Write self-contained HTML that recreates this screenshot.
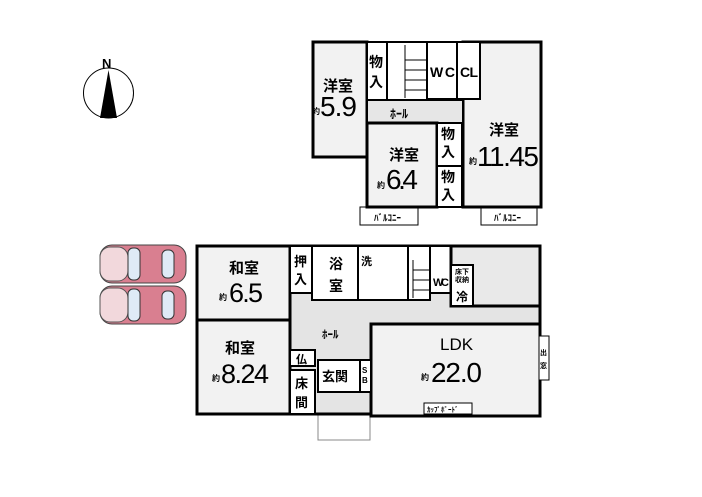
<!DOCTYPE html>
<html><head><meta charset="utf-8"><style>
body{margin:0;background:#fff}
svg{display:block}
text{font-family:"Liberation Sans","Noto Sans CJK JP",sans-serif;font-weight:bold;fill:#000}
text.n{font-weight:normal}
.r{fill:#f2f2f2;stroke:#000;stroke-width:3}
.g{fill:#e9e9e9;stroke:#000;stroke-width:3}
.w{fill:#fff;stroke:#000;stroke-width:2}
.t{fill:#fff;stroke:#000;stroke-width:1}
</style></head><body>
<svg width="702" height="497" viewBox="0 0 702 497" xmlns="http://www.w3.org/2000/svg">
<rect width="702" height="497" fill="#fff"/>
<circle cx="108.5" cy="93" r="25" fill="#fff" stroke="#000" stroke-width="1"/>
<polygon points="108.5,70 100,118 117,118" fill="#000"/>
<text x="102" y="68" font-size="13">N</text>
<g>
<rect x="100" y="245" width="86" height="38" rx="12" fill="#d97f90" stroke="#444"/>
<rect x="100" y="247" width="28" height="34" rx="10" fill="#f2d8dc" stroke="#555"/>
<rect x="128" y="248" width="12" height="32" rx="5" fill="#dfeaf6" stroke="#333"/>
<rect x="162" y="250" width="12" height="28" rx="5" fill="#dfeaf6" stroke="#333"/>
<rect x="100" y="286" width="86" height="38" rx="12" fill="#d97f90" stroke="#444"/>
<rect x="100" y="288" width="28" height="34" rx="10" fill="#f2d8dc" stroke="#555"/>
<rect x="128" y="289" width="12" height="32" rx="5" fill="#dfeaf6" stroke="#333"/>
<rect x="162" y="291" width="12" height="28" rx="5" fill="#dfeaf6" stroke="#333"/>
</g>
<rect x="360" y="207" width="58" height="18" class="t"/>
<rect x="481" y="207" width="56" height="18" class="t"/>
<text x="374" y="221" font-size="9">ﾊﾞﾙｺﾆｰ</text>
<text x="494" y="221" font-size="9">ﾊﾞﾙｺﾆｰ</text>
<rect x="313" y="42" width="54" height="115" class="r"/>
<rect x="463" y="42" width="78" height="165" class="r"/>
<rect x="367" y="42" width="20" height="58" class="w"/>
<rect x="387" y="42" width="40" height="58" class="w"/>
<rect x="427" y="42" width="30" height="57" class="w"/>
<rect x="457" y="42" width="23" height="57" class="w"/>
<rect x="367" y="100" width="96" height="23" fill="#e6e6e6" stroke="#000" stroke-width="2"/>
<rect x="367" y="123" width="70" height="84" class="r"/>
<rect x="437" y="123" width="25" height="43" class="w"/>
<rect x="437" y="166" width="25" height="41" class="w"/>
<g stroke="#000" stroke-width="1">
<line x1="405" y1="45" x2="405" y2="98"/><line x1="405" y1="60" x2="427" y2="60"/><line x1="405" y1="70" x2="427" y2="70"/><line x1="405" y1="80" x2="427" y2="80"/><line x1="405" y1="90" x2="427" y2="90"/>
</g>
<text x="369" y="67" font-size="14">物</text><text x="369" y="87" font-size="14">入</text>
<text x="430" y="77" font-size="14" textLength="25">WC</text><text x="460" y="77" font-size="14" textLength="18">CL</text>
<text x="390" y="118" font-size="12">ﾎｰﾙ</text>
<text x="323" y="91" font-size="15">洋室</text>
<text x="312" y="114" font-size="8">約</text><text class="n" x="320" y="116" font-size="28" textLength="37">5.9</text>
<text x="389" y="160" font-size="15">洋室</text>
<text x="377" y="188" font-size="8">約</text><text class="n" x="386" y="189" font-size="28" textLength="32">6.4</text>
<text x="441" y="139" font-size="14">物</text><text x="441" y="157" font-size="14">入</text>
<text x="441" y="182" font-size="14">物</text><text x="441" y="200" font-size="14">入</text>
<text x="489" y="135" font-size="15">洋室</text>
<text x="469" y="164" font-size="8">約</text><text class="n" x="477" y="166" font-size="28" textLength="62">11.45</text>
<rect x="318" y="392" width="52" height="48" fill="#fff" stroke="#888" stroke-width="1"/>
<rect x="197" y="246" width="343" height="168" fill="#e4e4e4" stroke="#000" stroke-width="3"/>
<rect x="197" y="246" width="93" height="74" class="r"/>
<rect x="197" y="320" width="93" height="94" class="r"/>
<rect x="290" y="246" width="22" height="47" class="w"/>
<rect x="312" y="246" width="46" height="54" class="w"/>
<rect x="358" y="246" width="50" height="54" class="w"/>
<rect x="408" y="246" width="22" height="54" class="w"/>
<rect x="430" y="246" width="21" height="47" class="w"/>
<rect x="451" y="246" width="89" height="60" class="g"/>
<rect x="451" y="265" width="22" height="41" class="w"/>
<rect x="371" y="324" width="169" height="92" class="r"/>
<rect x="290" y="350" width="25" height="16" class="w"/>
<rect x="290" y="370" width="25" height="44" class="w"/>
<rect x="318" y="360" width="42" height="32" class="w"/>
<rect x="360" y="360" width="11" height="32" class="w"/>
<rect x="424" y="403" width="48" height="11" class="t"/>
<rect x="539" y="336" width="10" height="44" class="t"/>
<g stroke="#000" stroke-width="1">
<line x1="413" y1="260" x2="413" y2="298"/><line x1="413" y1="270" x2="430" y2="270"/><line x1="413" y1="280" x2="430" y2="280"/><line x1="413" y1="290" x2="430" y2="290"/>
</g>
<text x="229" y="273" font-size="15">和室</text>
<text x="219" y="300" font-size="8">約</text><text class="n" x="229" y="302" font-size="27" textLength="34">6.5</text>
<text x="225" y="353" font-size="15">和室</text>
<text x="212" y="381" font-size="8">約</text><text class="n" x="221" y="383" font-size="27" textLength="48">8.24</text>
<text x="294" y="266" font-size="13">押</text><text x="294" y="284" font-size="13">入</text>
<text x="329" y="269" font-size="14">浴</text><text x="329" y="291" font-size="14">室</text>
<text x="361" y="265" font-size="11">洗</text>
<text x="433" y="286" font-size="11" textLength="16">WC</text>
<text x="455" y="274" font-size="7">床下</text><text x="455" y="282" font-size="7">収納</text>
<text x="456" y="301" font-size="12">冷</text>
<text x="322" y="338" font-size="11">ﾎｰﾙ</text>
<text x="296" y="363" font-size="11">仏</text>
<text x="295" y="388" font-size="13">床</text><text x="295" y="407" font-size="13">間</text>
<text x="322" y="381" font-size="13">玄関</text>
<text x="362" y="373" font-size="8">S</text><text x="362" y="383" font-size="8">B</text>
<text class="n" x="440" y="350" font-size="17">LDK</text>
<text x="421" y="380" font-size="8">約</text><text class="n" x="431" y="382" font-size="28" textLength="51">22.0</text>
<text x="427" y="412" font-size="7">ｶｯﾌﾟﾎﾞｰﾄﾞ</text>
<text x="540" y="355" font-size="7">出</text><text x="540" y="368" font-size="7">窓</text>
</svg>
</body></html>
